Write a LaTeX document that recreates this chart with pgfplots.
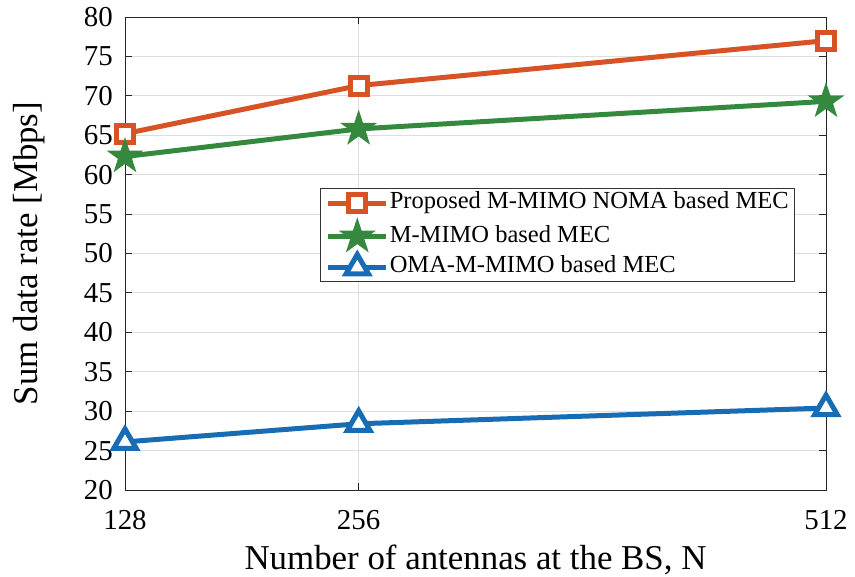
\documentclass[border=0pt]{standalone}
\usepackage{pgfplots}
\pgfplotsset{compat=1.18}
\usepackage{fontspec}
\setmainfont{Liberation Serif}
\definecolor{morange}{RGB}{215,83,37}
\definecolor{mgreen}{RGB}{52,137,62}
\definecolor{mblue}{RGB}{24,108,180}
\pgfdeclareplotmark{pentagram}{%
  \pgfpathmoveto{\pgfpointpolar{90}{\pgfplotmarksize}}%
  \pgfpathlineto{\pgfpointpolar{126}{0.382\pgfplotmarksize}}%
  \pgfpathlineto{\pgfpointpolar{162}{\pgfplotmarksize}}%
  \pgfpathlineto{\pgfpointpolar{198}{0.382\pgfplotmarksize}}%
  \pgfpathlineto{\pgfpointpolar{234}{\pgfplotmarksize}}%
  \pgfpathlineto{\pgfpointpolar{270}{0.382\pgfplotmarksize}}%
  \pgfpathlineto{\pgfpointpolar{306}{\pgfplotmarksize}}%
  \pgfpathlineto{\pgfpointpolar{342}{0.382\pgfplotmarksize}}%
  \pgfpathlineto{\pgfpointpolar{18}{\pgfplotmarksize}}%
  \pgfpathlineto{\pgfpointpolar{54}{0.382\pgfplotmarksize}}%
  \pgfpathclose
  \pgfusepathqfillstroke
}
\begin{document}
\begin{tikzpicture}
\begin{axis}[
  scale only axis,
  width=701bp, height=473bp,
  xmin=128, xmax=512, ymin=20, ymax=80,
  xtick={128,256,512}, ytick={20,25,...,80},
  tick align=inside,
  major tick length=7bp,
  grid=major,
  grid style={black!13, line width=0.9bp},
  axis line style={line width=0.9bp, black!85},
  tick style={line width=0.9bp, black!85},
  /pgf/number format/assume math mode=true,
  ticklabel style={font=\fontsize{29}{32}\selectfont, inner sep=0pt},
  yticklabel style={anchor=east, xshift=-12bp},
  xticklabel style={anchor=north, yshift=-20bp},
  xlabel={Number of antennas at the BS, N},
  ylabel={Sum data rate [Mbps]},
  label style={font=\fontsize{35}{38}\selectfont, inner sep=0pt},
  xlabel style={at={(axis description cs:0.5,0)}, anchor=north, yshift=-55bp},
  ylabel style={at={(axis description cs:0,0.5)}, anchor=south, yshift=80bp},
  legend style={at={(0.956,0.638)}, anchor=north east, font=\fontsize{24.6}{26}\selectfont,
    draw=black!80, line width=0.9bp, inner xsep=5bp, inner ysep=2bp, row sep=4bp,
    nodes={inner sep=1bp, text height=17bp, text depth=6bp}},
  legend cell align=left,
  legend image code/.code={\draw[mark repeat=2, mark phase=2, #1] plot coordinates {(0bp,0bp) (29bp,0bp) (58bp,0bp)};},
  clip=false,
]
\addplot[color=morange, line width=5bp, mark=square*, mark size=8.5bp, mark options={line width=5bp, fill=white, solid}]
  coordinates {(128,65.2) (256,71.3) (512,77.0)};
\addlegendentry{Proposed M-MIMO NOMA based MEC}
\addplot[color=mgreen, line width=5bp, mark=pentagram, mark size=17bp, mark options={line width=1.5bp, fill=mgreen, draw=mgreen, solid}]
  coordinates {(128,62.3) (256,65.8) (512,69.3)};
\addlegendentry{M-MIMO based MEC}
\addplot[color=mblue, line width=5bp, mark=triangle*, mark size=13bp, mark options={line width=5bp, fill=white, solid}]
  coordinates {(128,26.1) (256,28.4) (512,30.4)};
\addlegendentry{OMA-M-MIMO based MEC}
\path (rel axis cs:0,0) ++(-125bp,-87bp) rectangle ++(855bp,577bp);
\end{axis}
\end{tikzpicture}
\end{document}
